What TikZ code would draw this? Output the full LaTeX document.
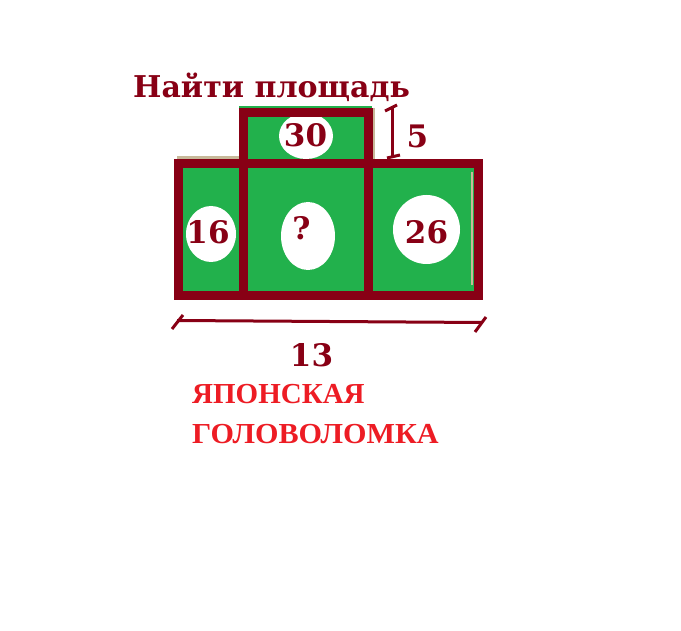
\documentclass[tikz,border=0pt]{standalone}
\usepackage{fontspec}
\setmainfont{Liberation Serif}
\newfontfamily\numfont{DejaVu Serif}
\usetikzlibrary{shapes.geometric}
\definecolor{darkred}{HTML}{880015}
\definecolor{paintgreen}{HTML}{22B14C}
\definecolor{paintred}{HTML}{ED1C24}
\definecolor{smudge}{HTML}{C8B99A}
\begin{document}
\begin{tikzpicture}[x=1pt,y=-1pt,
  frame/.style={draw=darkred, line width=9pt},
  dimline/.style={draw=darkred, line width=3pt},
  hole/.style={ellipse, fill=white, inner sep=0pt},
  num/.style={text=darkred, anchor=base, inner sep=0pt, font=\numfont\bfseries\fontsize{31}{31}\selectfont},
  redtxt/.style={text=paintred, anchor=base west, inner sep=0pt, font=\bfseries\fontsize{29}{29}\selectfont}]
\fill[white] (0,0) rectangle (681,631);
\useasboundingbox (0,0) rectangle (681,631);
% green cells
\fill[paintgreen] (178,163) rectangle (479,297);
\fill[paintgreen] (239,106) rectangle (372,164);
\draw[smudge, line width=3pt] (177,157.5) -- (239,157.5);
\draw[smudge, line width=2.5pt] (373.5,108) -- (373.5,160);
\draw[smudge, line width=2pt] (471.5,172) -- (471.5,285);
% white holes
\node[hole, minimum width=54, minimum height=46] (e30) at (306,136){};
\node[hole, minimum width=50, minimum height=56] (e16) at (211,234){};
\node[hole, minimum width=54, minimum height=68] (eq) at (308,236){};
\node[hole, minimum width=67, minimum height=69] (e26) at (426.5,229.5){};
% frames
\draw[frame] (178.5,164) rectangle (478.5,296);
\draw[frame] (243.5,296) -- (243.5,112.5) -- (368,112.5) -- (368,296);
% labels
\node[text=darkred, anchor=base west, inner sep=0pt, font=\numfont\bfseries\fontsize{30}{30}\selectfont] (title) at (133,98){Найти площадь};
\node[num] (n30) at (305.5,147){30};
\node[num] (n16) at (208,244){16};
\node[num] (nq) at (301.5,240){?};
\node[num] (n26) at (426.5,244){26};
\node[num] (n5) at (417.5,148){5};
\node[num] (n13) at (311.5,367){13};
% dimension 5
\coordinate (v0) at (392,108);
\coordinate (v1) at (392,157);
\coordinate (vt0) at (385,111);
\coordinate (vt1) at (397,105);
\coordinate (vb0) at (387,158);
\coordinate (vb1) at (400,155);
\draw[dimline](v0) -- (v1);
\draw[dimline](vt0) -- (vt1);
\draw[dimline](vb0) -- (vb1);
% dimension 13
\coordinate (h0) at (177,320.5);
\coordinate (h1) at (482,322.5);
\coordinate (hl0) at (172,329);
\coordinate (hl1) at (183,315);
\coordinate (hr0) at (475,332);
\coordinate (hr1) at (486,317);
\draw[dimline](h0) -- (h1);
\draw[dimline](hl0) -- (hl1);
\draw[dimline](hr0) -- (hr1);
% caption
\node[redtxt] (cap1) at (192,404){ЯПОНСКАЯ};
\node[redtxt, xscale=1.04] (cap2) at (192,443){ГОЛОВОЛОМКА};
\end{tikzpicture}
\end{document}
